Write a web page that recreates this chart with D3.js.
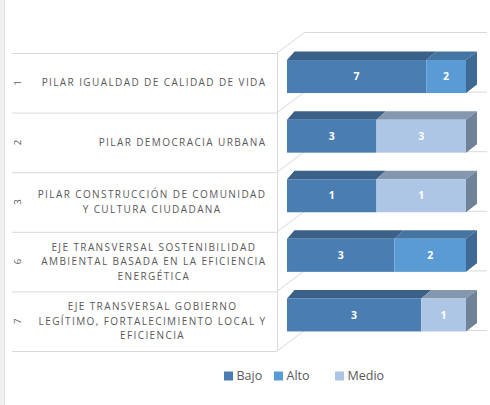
<!DOCTYPE html>
<html><head><meta charset="utf-8">
<script src="https://cdn.jsdelivr.net/npm/d3@7"></script>
<style>body{margin:0;background:#fff}svg{display:block}</style>
</head><body>
<script>
const ids = ["1","2","3","6","7"];
const labels = [
  ["PILAR IGUALDAD DE CALIDAD DE VIDA"],
  ["PILAR DEMOCRACIA URBANA"],
  ["PILAR CONSTRUCCIÓN DE COMUNIDAD","Y CULTURA CIUDADANA"],
  ["EJE TRANSVERSAL SOSTENIBILIDAD","AMBIENTAL BASADA EN LA EFICIENCIA","ENERGÉTICA"],
  ["EJE TRANSVERSAL GOBIERNO","LEGÍTIMO, FORTALECIMIENTO LOCAL Y","EFICIENCIA"]
];
const seriesNames = ["Bajo","Alto","Medio"];
const bajo  = [7,3,1,3,3];
const alto  = [2,0,0,2,0];
const medio = [0,3,1,0,1];

const front = {Bajo:"#4a7eb2", Alto:"#5b9bd5", Medio:"#adc6e5"};
const top_  = {Bajo:"#3b6189", Alto:"#4575a3", Medio:"#8497ae"};
const side  = {Bajo:"#3a6590", Alto:"#3d6994", Medio:"#6f8297"};

const W=490,H=405;
const svg=d3.select("body").append("svg").attr("width",W).attr("height",H);

// left page edge
svg.append("rect").attr("x",0).attr("y",0).attr("width",4).attr("height",H).attr("fill","#f0f0f0");
svg.append("line").attr("x1",4.5).attr("x2",4.5).attr("y1",0).attr("y2",H).attr("stroke","#e0e0e0");

const y=d3.scaleBand().domain(ids).range([53,351]).padding(0);
const x=d3.scaleLinear().domain([0,1]).range([287,466]);
const axisX=277, wallDx=28, wallDy=21, wallRight=487;
const grid="#d9d9d9";

// gridlines: category lines
const bounds = ids.map(d=>y(d)).concat([y.range()[1]]);
const g=svg.append("g");
bounds.forEach(b=>{
  g.append("line").attr("x1",12).attr("x2",axisX).attr("y1",b+0.5).attr("y2",b+0.5).attr("stroke",grid);
  g.append("line").attr("x1",axisX).attr("y1",b).attr("x2",axisX+wallDx).attr("y2",b-wallDy).attr("stroke",grid);
  g.append("line").attr("x1",axisX+wallDx).attr("x2",wallRight).attr("y1",b-wallDy+0.5).attr("y2",b-wallDy+0.5).attr("stroke",grid);
});
g.append("line").attr("x1",axisX+0.5).attr("x2",axisX+0.5).attr("y1",53).attr("y2",351).attr("stroke",grid);

// bars
const rows = ids.map((id,i)=>({id, vals:{Bajo:bajo[i],Alto:alto[i],Medio:medio[i]}}));
const dy=8.5;
const dxAt = px => 7.5 + 3.5*(px-x(0))/(x(1)-x(0));
const bw=y.bandwidth();
rows.forEach(r=>{
  const total=seriesNames.reduce((s,k)=>s+r.vals[k],0);
  const y0=y(r.id)+bw*0.118, y1=y(r.id)+bw*0.672;
  let acc=0; const segs=[];
  seriesNames.forEach(k=>{
    const v=r.vals[k]; if(!v) return;
    segs.push({k,v,a:acc/total,b:(acc+v)/total}); acc+=v;
  });
  const bg=svg.append("g");
  segs.forEach(s=>{
    const xa=x(s.a), xb=x(s.b);
    bg.append("polygon").attr("points",[[xa,y0],[xa+dxAt(xa),y0-dy],[xb+dxAt(xb),y0-dy],[xb,y0]].join(" ")).attr("fill",top_[s.k]);
    bg.append("rect").attr("x",xa).attr("y",y0).attr("width",xb-xa).attr("height",y1-y0).attr("fill",front[s.k]);
    bg.append("text").attr("x",(xa+xb)/2).attr("y",(y0+y1)/2).attr("dy","0.35em").attr("text-anchor","middle")
      .attr("fill","#fff").attr("font-family","Open Sans, Liberation Sans, sans-serif").attr("font-weight","bold").attr("font-size",10.5).text(s.v);
  });
  const last=segs[segs.length-1], xe=x(1), d=dxAt(xe);
  bg.append("polygon").attr("points",[[xe,y0],[xe+d,y0-dy],[xe+d,y1-dy],[xe,y1]].join(" ")).attr("fill",side[last.k]);
});

// category labels
const lblFont="Open Sans, Liberation Sans, sans-serif";
const lineH=14.5, rightEdge=266.5;
labels.forEach((lines,i)=>{
  const cy=y(ids[i])+bw/2;
  const tg=svg.append("g");
  const texts=lines.map((t,j)=>tg.append("text").attr("font-family",lblFont).attr("font-size",10)
    .attr("letter-spacing","1.4px").attr("fill","#595959").attr("text-anchor","middle")
    .attr("y",cy+(j-(lines.length-1)/2)*lineH).attr("dy","0.35em").text(t));
  const ws=texts.map(t=>t.node().getComputedTextLength());
  const maxW=d3.max(ws);
  texts.forEach(t=>t.attr("x",rightEdge-maxW/2));
  svg.append("text").attr("transform",`translate(21,${cy}) rotate(-90)`).attr("text-anchor","middle")
    .attr("font-family",lblFont).attr("font-size",9.6).attr("fill","#595959").text(ids[i]);
});

// legend
const legX=[224,274,335];
seriesNames.forEach((k,i)=>{
  svg.append("rect").attr("x",legX[i]).attr("y",371.5).attr("width",9).attr("height",9).attr("fill",front[k]);
  svg.append("text").attr("x",legX[i]+12.5).attr("y",376).attr("dy","0.35em").attr("font-family",lblFont)
    .attr("font-size",12.5).attr("fill","#595959").text(k);
});
</script>
</body></html>
